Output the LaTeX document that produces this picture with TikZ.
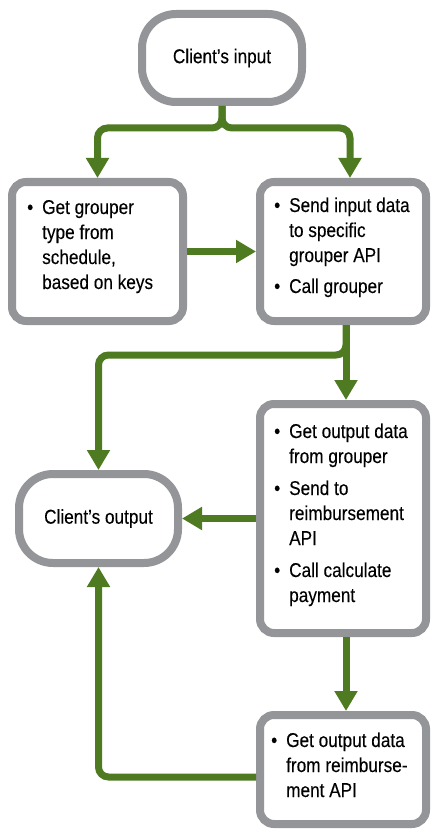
\documentclass[tikz,border=0pt]{standalone}
\usepackage{fontspec}
\setmainfont{Liberation Sans}[FakeStretch=0.86,FakeBold=0.15]
\usetikzlibrary{arrows.meta,calc}
\definecolor{boxgray}{HTML}{939598}
\definecolor{flowgreen}{HTML}{4E7A21}
\tikzset{
  terminal/.style={draw=boxgray, line width=8pt, fill=white, rounded corners=34pt, inner sep=0pt},
  stepbox/.style={draw=boxgray, line width=8pt, fill=white, rounded corners=14pt, inner sep=0pt},
  conn/.style={draw=flowgreen, line width=7pt, rounded corners=10pt, -{Triangle[width=22pt,length=20pt]}},
  txt/.style={anchor=base west, inner sep=0pt, align=left},
  every node/.style={font=\fontsize{20pt}{25pt}\selectfont}
}
\newcommand{\bl}{\textbullet}
\begin{document}
\begin{tikzpicture}[x=1pt,y=-1pt]
\useasboundingbox (0,0) rectangle (431,829);
% nodes
\node[terminal, minimum width=160pt, minimum height=88pt] (in) at (222,58) {Client’s input};
\node[terminal, minimum width=159pt, minimum height=89pt] (out) at (98.5,518.5) {Client’s output};
\node[stepbox, minimum width=171pt, minimum height=139pt] (A) at (97.5,251.5) {};
\node[stepbox, minimum width=166pt, minimum height=139pt] (B) at (343,251.5) {};
\node[stepbox, minimum width=166pt, minimum height=229pt] (C) at (343,518.5) {};
\node[stepbox, minimum width=166pt, minimum height=109pt] (D) at (343,769.5) {};
% texts
\node[txt] (tA) at (27,214) {\begin{tabular}[t]{@{}p{15pt}@{}l@{}}
\bl & Get grouper\\ & type from\\ & schedule,\\ & based on keys\end{tabular}};
\node[txt] (tB) at (274,212) {\begin{tabular}[t]{@{}p{15pt}@{}l@{}}
\bl & Send input data\\ & to specific\\ & grouper API\\[6pt] \bl & Call grouper\end{tabular}};
\node[txt] (tC) at (274,438) {\begin{tabular}[t]{@{}p{15pt}@{}l@{}}
\bl & Get output data\\ & from grouper\\[7pt] \bl & Send to\\ & reimbursement\\ & API\\[7pt] \bl & Call calculate\\ & payment\end{tabular}};
\node[txt] (tD) at (271,747) {\begin{tabular}[t]{@{}p{15pt}@{}l@{}}
\bl & Get output data\\ & from reimburse-\\ & ment API\end{tabular}};
% connectors
\draw[conn] (in.south) -- ++(0,22) -| (A.north);
\draw[conn] (in.south) -- ++(0,22) -| ([xshift=7pt]B.north);
\draw[conn] (A.east) -- (B.west);
\draw[conn] ([xshift=3pt]B.south) -- ++(0,30) -| (out.north);
\draw[conn] ([xshift=3pt]B.south) -- ([xshift=3pt]C.north);
\draw[conn] (C.west) -- (out.east);
\draw[conn] ([xshift=3pt]C.south) -- ([xshift=3pt]D.north);
\draw[conn] ([yshift=-7.5pt]D.west) -| (out.south);
\end{tikzpicture}
\end{document}
